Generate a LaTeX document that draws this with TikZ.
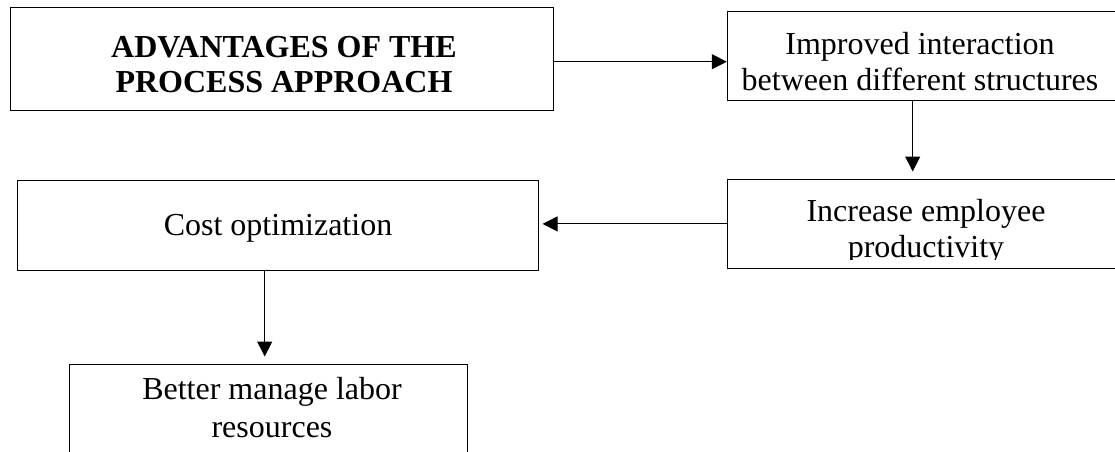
\documentclass[tikz,border=0pt]{standalone}
\usepackage{fontspec}
\setmainfont{Liberation Serif}
\usetikzlibrary{positioning,arrows.meta}

\begin{document}
\begin{tikzpicture}[x=0.5pt, y=-0.5pt,
    box/.style={draw, line width=0.5pt, inner sep=0pt},
    boxtext/.style={align=center, inner sep=0pt, font=\fontsize{16}{18}\selectfont},
    link/.style={-{Triangle[length=7.5pt, width=7.5pt]}, line width=0.5pt}]
    \useasboundingbox (0,0) rectangle (1115,451);
    \clip (0,0) rectangle (1115,451);

    % Boxes
    \node[box, minimum width=271.2pt, minimum height=51.4pt] (adv) at (281.9,58.7) {};
    \node[box, minimum width=195.4pt, minimum height=44.5pt] (inter) at (922.7,56.2) {};
    \node[box, minimum width=195.4pt, minimum height=44.9pt] (prod) at (922.7,223.9) {};
    \node[box, minimum width=260.7pt, minimum height=44.7pt] (cost) at (278,225.35) {};
    \node[box, minimum width=198.9pt, minimum height=50pt] (labor) at (268.2,414) {};

    % Texts (base = last line)
    \node[boxtext, font=\fontsize{16}{17.5}\selectfont\bfseries, anchor=base] (advtext) at (284,92) {ADVANTAGES OF THE\\PROCESS APPROACH};
    \node[boxtext, anchor=base] (intertext) at (920,90) {Improved interaction\\between different structures};
    \begin{scope}
        \clip (727,179) rectangle (1118,259);
        \node[boxtext, anchor=base] (prodtext) at (926,257) {Increase employee\\productivity};
    \end{scope}
    \node[boxtext, anchor=base] (costtext) at (278,235) {Cost optimization};
    \node[boxtext, font=\fontsize{16}{19}\selectfont, anchor=base] (labortext) at (272,437) {Better manage labor\\resources};

    % Arrows
    \draw[link] ([yshift=-1.5pt]adv.east) -- ([yshift=-1.5pt]adv.east -| inter.west);
    \draw[link, shorten >=3.5pt] ([xshift=-5pt]inter.south) -- ([xshift=-5pt]prod.north);
    \draw[link, shorten >=1.7pt] (prod.west) -- (prod.west -| cost.east);
    \draw[link, shorten >=3.5pt] ([xshift=-6.65pt]cost.south) -- ([xshift=-6.65pt]cost.south |- labor.north);
\end{tikzpicture}
\end{document}
